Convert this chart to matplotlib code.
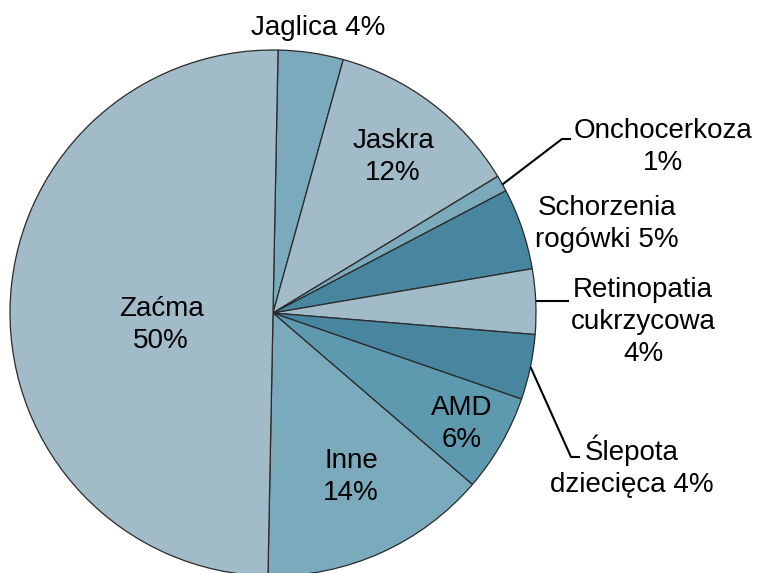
import matplotlib
matplotlib.use("Agg")
import matplotlib.pyplot as plt

plt.rcParams['font.family'] = ['Liberation Sans', 'DejaVu Sans']

categories = ["Jaglica", "Jaskra", "Onchocerkoza", "Schorzenia rogówki",
              "Retinopatia cukrzycowa", "Ślepota dziecięca", "AMD", "Inne", "Zaćma"]
values = [4, 12, 1, 5, 4, 4, 6, 14, 50]
label_texts = ["Jaglica 4%", "Jaskra\n12%", "Onchocerkoza\n1%", "Schorzenia\nrogówki 5%",
               "Retinopatia\ncukrzycowa\n4%", "Ślepota\ndziecięca 4%", "AMD\n6%", "Inne\n14%", "Zaćma\n50%"]

LIGHT, MED, DARK, AMDC = "#A1BCC8", "#7AAABB", "#4886A0", "#5E9AAF"
colors = [MED, LIGHT, MED, DARK, LIGHT, DARK, AMDC, MED, LIGHT]

W, H = 761, 573
CX, CY, R = 273, 313, 263

def d(px, py):
    return ((px - CX) / R, (CY - py) / R)

fig = plt.figure(figsize=(W / 100, H / 100), dpi=100)
ax = fig.add_axes([0, 0, 1, 1])
ax.pie(values, colors=colors, startangle=88.9, counterclock=False, radius=1,
       wedgeprops=dict(edgecolor="#2a2a2a", linewidth=0.9))
ax.set_xlim(-CX / R, (W - CX) / R)
ax.set_ylim((CY - H) / R, CY / R)
ax.set_aspect('auto')
ax.axis('off')

# label positions (pixel centres)
label_pos = [(318, 28), (393, 157), (663, 147), (607, 224), (643, 322),
             (632, 466), (462, 424), (351, 477), (161, 325)]
fs = 20
for txt, (px, py) in zip(label_texts, label_pos):
    x, y = d(px, py)
    ax.text(x, y, txt, ha='center', va='center', fontsize=fs, color='black',
            linespacing=1.3)

# leader lines
leaders = [
    [(503, 184), (562, 139), (570, 139)],
    [(537, 301), (568, 301)],
    [(531, 368), (571, 457), (579, 457)],
]
for pts in leaders:
    xs, ys = zip(*[d(px, py) for px, py in pts])
    ax.plot(xs, ys, color='black', lw=1.5)

fig.savefig("out.png", dpi=100)
